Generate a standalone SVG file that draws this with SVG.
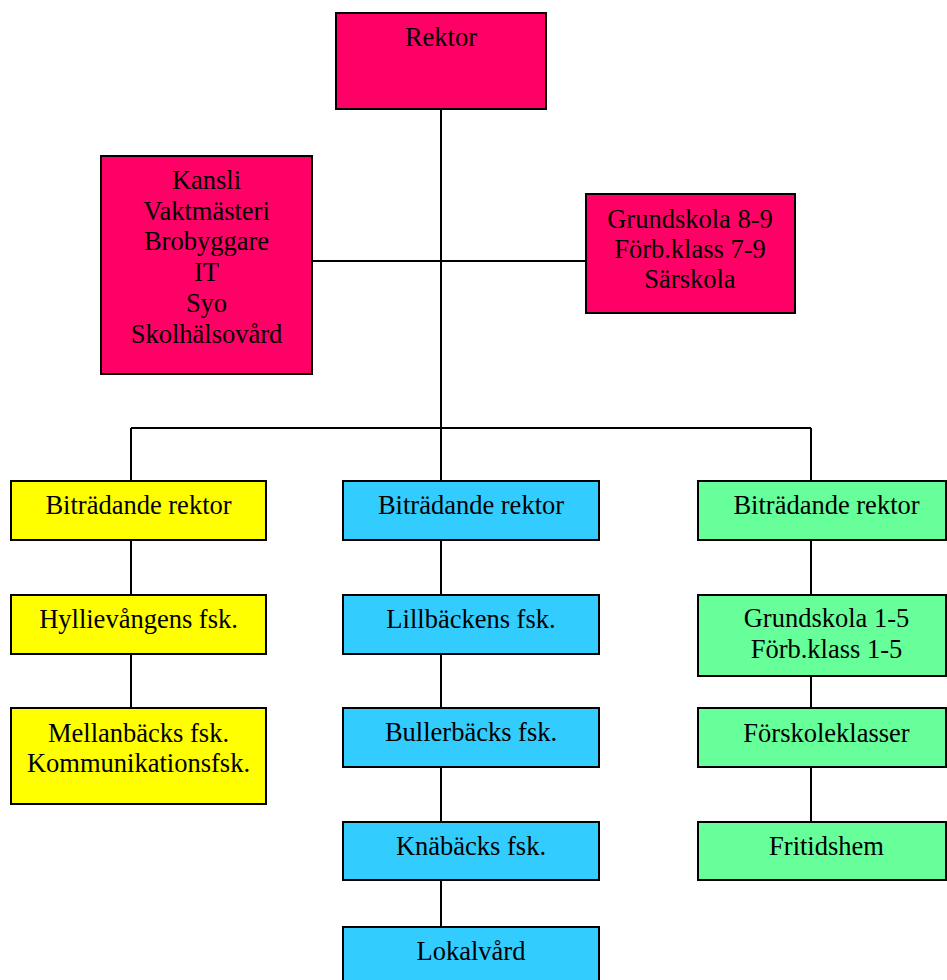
<svg xmlns="http://www.w3.org/2000/svg" width="947" height="980" viewBox="0 0 947 980">
<style>
rect{stroke:#000;stroke-width:2}
.m{fill:#FF0066}.y{fill:#FFFF00}.b{fill:#33CCFF}.g{fill:#66FF99}
text{font-family:"Liberation Serif","Times New Roman",serif;font-size:26.5px;fill:#000;text-anchor:middle}
#connectors line{stroke:#000;stroke-width:2}
</style>
<rect x="0" y="0" width="947" height="980" fill="#fff" style="stroke:none"/>
<g id="connectors">
<line x1="441" y1="109" x2="441" y2="428"/>
<line x1="312" y1="261" x2="586" y2="261"/>
<line x1="131" y1="428" x2="811" y2="428"/>
<line x1="131" y1="428" x2="131" y2="481"/>
<line x1="811" y1="428" x2="811" y2="481"/>
<line x1="441" y1="428" x2="441" y2="481"/>
<line x1="131" y1="540" x2="131" y2="595"/>
<line x1="131" y1="654" x2="131" y2="708"/>
<line x1="441" y1="540" x2="441" y2="595"/>
<line x1="441" y1="654" x2="441" y2="708"/>
<line x1="441" y1="767" x2="441" y2="822"/>
<line x1="441" y1="880" x2="441" y2="927"/>
<line x1="811" y1="540" x2="811" y2="595"/>
<line x1="811" y1="676" x2="811" y2="708"/>
<line x1="811" y1="767" x2="811" y2="822"/>
</g>
<g id="rektor"><rect class="m" x="336" y="13" width="210" height="96"/><text x="441" y="46">Rektor</text></g>
<g id="kansli"><rect class="m" x="101" y="156" width="211" height="218"/>
<text x="206.5" y="189">Kansli</text><text x="206.5" y="220">Vaktmästeri</text><text x="206.5" y="250">Brobyggare</text><text x="206.5" y="281">IT</text><text x="206.5" y="311.5">Syo</text><text x="206.5" y="343">Skolhälsovård</text></g>
<g id="grundskola89"><rect class="m" x="586" y="194" width="209" height="119"/>
<text x="690" y="228">Grundskola 8-9</text><text x="690" y="258">Förb.klass 7-9</text><text x="690" y="288">Särskola</text></g>
<g id="bitr-yellow"><rect class="y" x="11" y="481" width="255" height="59"/><text x="138.5" y="514">Biträdande rektor</text></g>
<g id="hyllie"><rect class="y" x="11" y="595" width="255" height="59"/><text x="138.5" y="628">Hyllievångens fsk.</text></g>
<g id="mellan"><rect class="y" x="11" y="708" width="255" height="96"/><text x="138.5" y="741.5">Mellanbäcks fsk.</text><text x="138.5" y="771.5">Kommunikationsfsk.</text></g>
<g id="bitr-blue"><rect class="b" x="343" y="481" width="256" height="59"/><text x="471" y="514">Biträdande rektor</text></g>
<g id="lill"><rect class="b" x="343" y="595" width="256" height="59"/><text x="471" y="628">Lillbäckens fsk.</text></g>
<g id="buller"><rect class="b" x="343" y="708" width="256" height="59"/><text x="471" y="741">Bullerbäcks fsk.</text></g>
<g id="kna"><rect class="b" x="343" y="822" width="256" height="58"/><text x="471" y="855">Knäbäcks fsk.</text></g>
<g id="lokal"><rect class="b" x="343" y="927" width="256" height="60"/><text x="471" y="960">Lokalvård</text></g>
<g id="bitr-green"><rect class="g" x="698" y="481" width="248" height="59"/><text x="826.5" y="514">Biträdande rektor</text></g>
<g id="grund15"><rect class="g" x="698" y="595" width="248" height="81"/><text x="826.5" y="627">Grundskola 1-5</text><text x="826.5" y="658">Förb.klass 1-5</text></g>
<g id="forskole"><rect class="g" x="698" y="708" width="248" height="59"/><text x="826.5" y="741.5">Förskoleklasser</text></g>
<g id="fritids"><rect class="g" x="698" y="822" width="248" height="58"/><text x="826.5" y="855">Fritidshem</text></g>
</svg>
